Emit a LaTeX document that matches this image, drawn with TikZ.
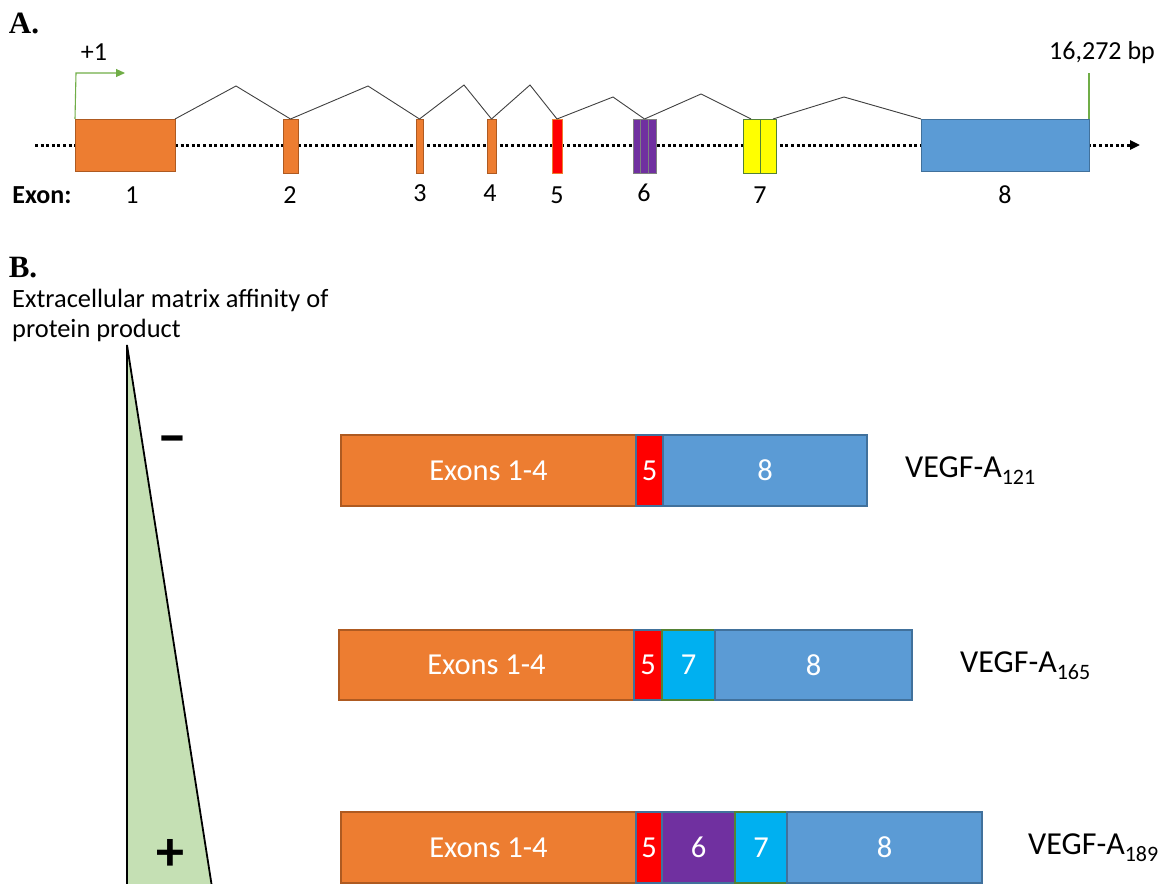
\documentclass[tikz,border=0pt]{standalone}
\usepackage{fontspec}
\setmainfont{Carlito}
\newfontfamily\serifbold{Liberation Serif}[BoldFont={Liberation Serif Bold}]
\usetikzlibrary{arrows.meta,calc}
\definecolor{exorange}{HTML}{ED7D31}
\definecolor{exorangeb}{HTML}{AE5A21}
\definecolor{exblue}{HTML}{5B9BD5}
\definecolor{exblueb}{HTML}{41719C}
\definecolor{exred}{HTML}{FF0000}
\definecolor{expurple}{HTML}{7030A0}
\definecolor{excyan}{HTML}{00B0F0}
\definecolor{exgreen}{HTML}{548235}
\definecolor{exyellow}{HTML}{FFFF00}
\definecolor{trigreen}{HTML}{C5E0B4}
\definecolor{promgreen}{HTML}{70AD47}
\definecolor{introngray}{HTML}{404040}
\tikzset{
  exon/.style={draw, inner sep=0pt, outer sep=0pt, anchor=north west, line width=1pt},
  seg/.style={draw, inner sep=0pt, outer sep=0pt, anchor=north west, line width=1.3pt,
     text=white, font=\fontsize{30.5}{32}\selectfont},
  intron/.style={draw=introngray, line width=0.9pt},
  axisline/.style={line width=3pt, dash pattern=on 3pt off 2.6pt, -{Triangle[length=10pt,width=9pt]}},
  prom/.style={draw=promgreen, line width=1.1pt},
  lbl/.style={inner sep=0pt, font=\fontsize{26}{28}\selectfont},
  vlbl/.style={inner sep=0pt, anchor=west, font=\fontsize{32}{34}\selectfont},
  panel/.style={inner sep=0pt, font=\fontsize{31}{31}\selectfont\serifbold\bfseries}
}
\newcommand{\vsub}[1]{\raisebox{-7pt}{\fontsize{22}{22}\selectfont #1}}
\begin{document}
\begin{tikzpicture}[x=1pt,y=-1pt]
\useasboundingbox (0,0) rectangle (1166,883);
\clip (0,0) rectangle (1166,883);

% ---------- Panel A ----------
\node[panel] (pa) at (24,23) {A.};
\coordinate (axs) at (35,145);
\coordinate (axe) at (1140,145);
\draw[axisline] (axs) -- (axe);

\node[exon, fill=exorange, draw=exorangeb, minimum width=100pt, minimum height=52pt] (e1) at (75,119) {};
\node[exon, fill=exorange, draw=exorangeb, minimum width=15pt, minimum height=54pt] (e2) at (283,119) {};
\node[exon, fill=exorange, draw=exorangeb, minimum width=7pt, minimum height=54pt] (e3) at (416,119) {};
\node[exon, fill=exorange, draw=exorangeb, minimum width=9pt, minimum height=54pt] (e4) at (487,119) {};
\node[exon, fill=exred, draw=exorange, minimum width=10pt, minimum height=54pt] (e5) at (552,119) {};
\node[exon, fill=expurple, draw=gray, minimum width=23pt, minimum height=54pt] (e6) at (633,119) {};
\draw[gray, line width=1pt] ($(e6.north west)+(7.5,0)$) -- ($(e6.south west)+(7.5,0)$);
\draw[gray, line width=1pt] ($(e6.north west)+(15,0)$) -- ($(e6.south west)+(15,0)$);
\node[exon, fill=exyellow, draw=exgreen, minimum width=33pt, minimum height=54pt] (e7) at (743,119) {};
\draw[exgreen, line width=1pt] ($(e7.north west)+(17,0)$) -- ($(e7.south west)+(17,0)$);
\node[exon, fill=exblue, draw=exblueb, minimum width=168pt, minimum height=52pt] (e8) at (921,119) {};

% introns
\coordinate (k1) at (236,86);
\coordinate (k2) at (368,86);
\coordinate (k3) at (464,85);
\coordinate (k4) at (530,85);
\coordinate (k5) at (613,97);
\coordinate (k6) at (701,94);
\coordinate (k7) at (844,97);
\coordinate (e7a) at ($(e7.north west)+(8,0)$);
\coordinate (e7b) at ($(e7.north east)+(-3,0)$);
\draw[intron] (e1.north east) -- (k1) -- (e2.north);
\draw[intron] (e2.north) -- (k2) -- (e3.north);
\draw[intron] (e3.north) -- (k3) -- (e4.north);
\draw[intron] (e4.north) -- (k4) -- (e5.north);
\draw[intron] (e5.north) -- (k5) -- (e6.north);
\draw[intron] (e6.north) -- (k6) -- (e7a);
\draw[intron] (e7b) -- (k7) -- (e8.north west);

% promoter and end
\coordinate (p1) at (76,73);
\coordinate (p2) at (125,73);
\draw[prom, -{Triangle[length=9pt,width=8pt]}] (e1.north west) -- (p1) -- (p2);
\coordinate (endt) at (1089,73);
\draw[prom] (e8.north east) -- (endt);
\node[lbl] (plus1) at (94,52) {+1};
\node[lbl] (bp) at (1102,53) {16,272 bp};

% exon labels
\node[lbl, font=\fontsize{26}{28}\selectfont\bfseries] (exl) at (42,195) {Exon:};
\node[lbl] (l1) at (132,195) {1};
\node[lbl] (l2) at (290,195) {2};
\node[lbl] (l3) at (420,193) {3};
\node[lbl] (l4) at (490,193) {4};
\node[lbl] (l5) at (557,195) {5};
\node[lbl] (l6) at (644,193) {6};
\node[lbl] (l7) at (760,195) {7};
\node[lbl] (l8) at (1005,195) {8};

% ---------- Panel B ----------
\node[panel] (pb) at (23,268) {B.};
\node[inner sep=0pt, anchor=west, align=left, font=\fontsize{26.4}{30}\selectfont] (ecm) at (12,315)
  {Extracellular matrix affinity of\\protein product};

\coordinate (ta) at (127,345);
\coordinate (tb) at (127,900);
\coordinate (tc) at (214,900);
\draw[fill=trigreen, line width=1.8pt, line join=miter] (ta) -- (tc) -- (tb) -- cycle;
\node[inner sep=0pt, font=\fontsize{60}{60}\selectfont\bfseries] (minus) at (172,446) {–};
\node[inner sep=0pt, font=\fontsize{56}{56}\selectfont\bfseries] (plus) at (170,855) {+};

% Row 1
\node[seg, fill=exorange, draw=exorangeb, minimum width=295pt, minimum height=71pt] (r1a) at (341,435) {Exons 1-4};
\node[seg, fill=exred, draw=exblueb, minimum width=27pt, minimum height=71pt] (r1b) at (636,435) {5};
\node[seg, fill=exblue, draw=exblueb, minimum width=204pt, minimum height=71pt] (r1c) at (663,435) {8};
\node[vlbl] (v121) at (905,471) {VEGF-A\vsub{121}};

% Row 2
\node[seg, fill=exorange, draw=exorangeb, minimum width=295pt, minimum height=70pt] (r2a) at (339,630) {Exons 1-4};
\node[seg, fill=exred, draw=exblueb, minimum width=28pt, minimum height=70pt] (r2b) at (634,630) {5};
\node[seg, fill=excyan, draw=exgreen, minimum width=53pt, minimum height=70pt] (r2c) at (662,630) {7};
\node[seg, fill=exblue, draw=exblueb, minimum width=197pt, minimum height=70pt] (r2d) at (715,630) {8};
\node[vlbl] (v165) at (960,666) {VEGF-A\vsub{165}};

% Row 3
\node[seg, fill=exorange, draw=exorangeb, minimum width=295pt, minimum height=71pt] (r3a) at (341,812) {Exons 1-4};
\node[seg, fill=exred, draw=exblueb, minimum width=26pt, minimum height=71pt] (r3b) at (636,812) {5};
\node[seg, fill=expurple, draw=exblueb, minimum width=73pt, minimum height=71pt] (r3c) at (662,812) {6};
\node[seg, fill=excyan, draw=exgreen, minimum width=52pt, minimum height=71pt] (r3d) at (735,812) {7};
\node[seg, fill=exblue, draw=exblueb, minimum width=195pt, minimum height=71pt] (r3e) at (787,812) {8};
\node[vlbl] (v189) at (1028,848) {VEGF-A\vsub{189}};
\end{tikzpicture}
\end{document}
